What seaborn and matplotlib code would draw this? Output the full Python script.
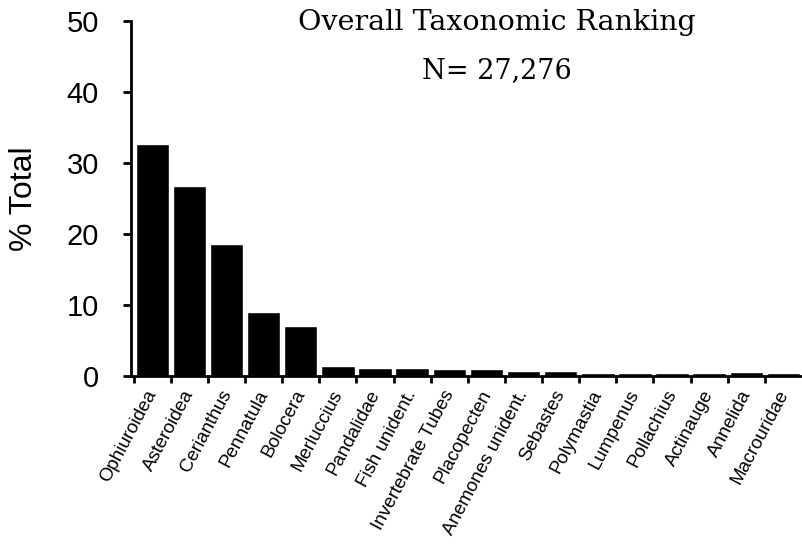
import matplotlib.pyplot as plt
import matplotlib.transforms as mtransforms
import numpy as np
import pandas as pd
import seaborn as sns
from matplotlib.ticker import FixedLocator

taxa = [
    "Ophiuroidea", "Asteroidea", "Cerianthus", "Pennatula", "Bolocera",
    "Merluccius", "Pandalidae", "Fish unident.", "Invertebrate Tubes",
    "Placopecten", "Anemones unident.", "Sebastes", "Polymastia",
    "Lumpenus", "Pollachius", "Actinauge", "Annelida", "Macrouridae",
]
pct_total = [
    32.7, 26.8, 18.6, 9.0, 7.1,
    1.4, 1.1, 1.1, 0.95,
    1.0, 0.7, 0.7, 0.4,
    0.4, 0.4, 0.35, 0.55, 0.45,
]
y_ticks = [0, 10, 20, 30, 40, 50]

df = pd.DataFrame({"taxon": taxa, "pct": pct_total})

sns.set_style("ticks")
plt.rcParams["font.family"] = ["Liberation Sans", "DejaVu Sans"]
plt.rcParams["text.color"] = "black"
plt.rcParams["xtick.color"] = "black"
plt.rcParams["ytick.color"] = "black"
plt.rcParams["axes.labelcolor"] = "black"

fig = plt.figure(figsize=(8.02, 5.44), dpi=100)
ax = fig.add_axes([0.163, 0.309, 0.837, 0.652])

sns.barplot(data=df, x="taxon", y="pct", color="black", width=0.9,
            saturation=1, ax=ax)

ax.set_xlim(-0.58, len(taxa) - 0.5)
ax.set_ylim(0, 50)
ax.set_yticks(y_ticks)
ax.tick_params(axis="y", labelsize=21, length=6, width=2, direction="out", pad=17)

# category labels, tick marks between categories
ax.set_xticks(np.arange(len(taxa)))
ax.set_xticklabels(taxa, rotation=62, ha="right", rotation_mode="anchor",
                   fontsize=13.5)
ax.tick_params(axis="x", which="major", length=0, pad=8)
shift = mtransforms.ScaledTranslation(-0.07, 0, fig.dpi_scale_trans)
for lbl in ax.get_xticklabels():
    lbl.set_transform(lbl.get_transform() + shift)
ax.xaxis.set_minor_locator(FixedLocator(np.arange(len(taxa)) - 0.5))
ax.tick_params(axis="x", which="minor", length=5, width=2, direction="out")

ax.set_xlabel("")
ax.set_ylabel("% Total", fontsize=23, labelpad=20)

for side in ("top", "right"):
    ax.spines[side].set_visible(False)
for side in ("left", "bottom"):
    ax.spines[side].set_linewidth(2)
    ax.spines[side].set_color("black")

fig.text(0.619, 0.958, "Overall Taxonomic Ranking", ha="center", va="center",
         fontsize=20.5, family="DejaVu Serif")
fig.text(0.619, 0.871, "N= 27,276", ha="center", va="center",
         fontsize=19.5, family="DejaVu Serif")

fig.savefig("out.png", dpi=100)
